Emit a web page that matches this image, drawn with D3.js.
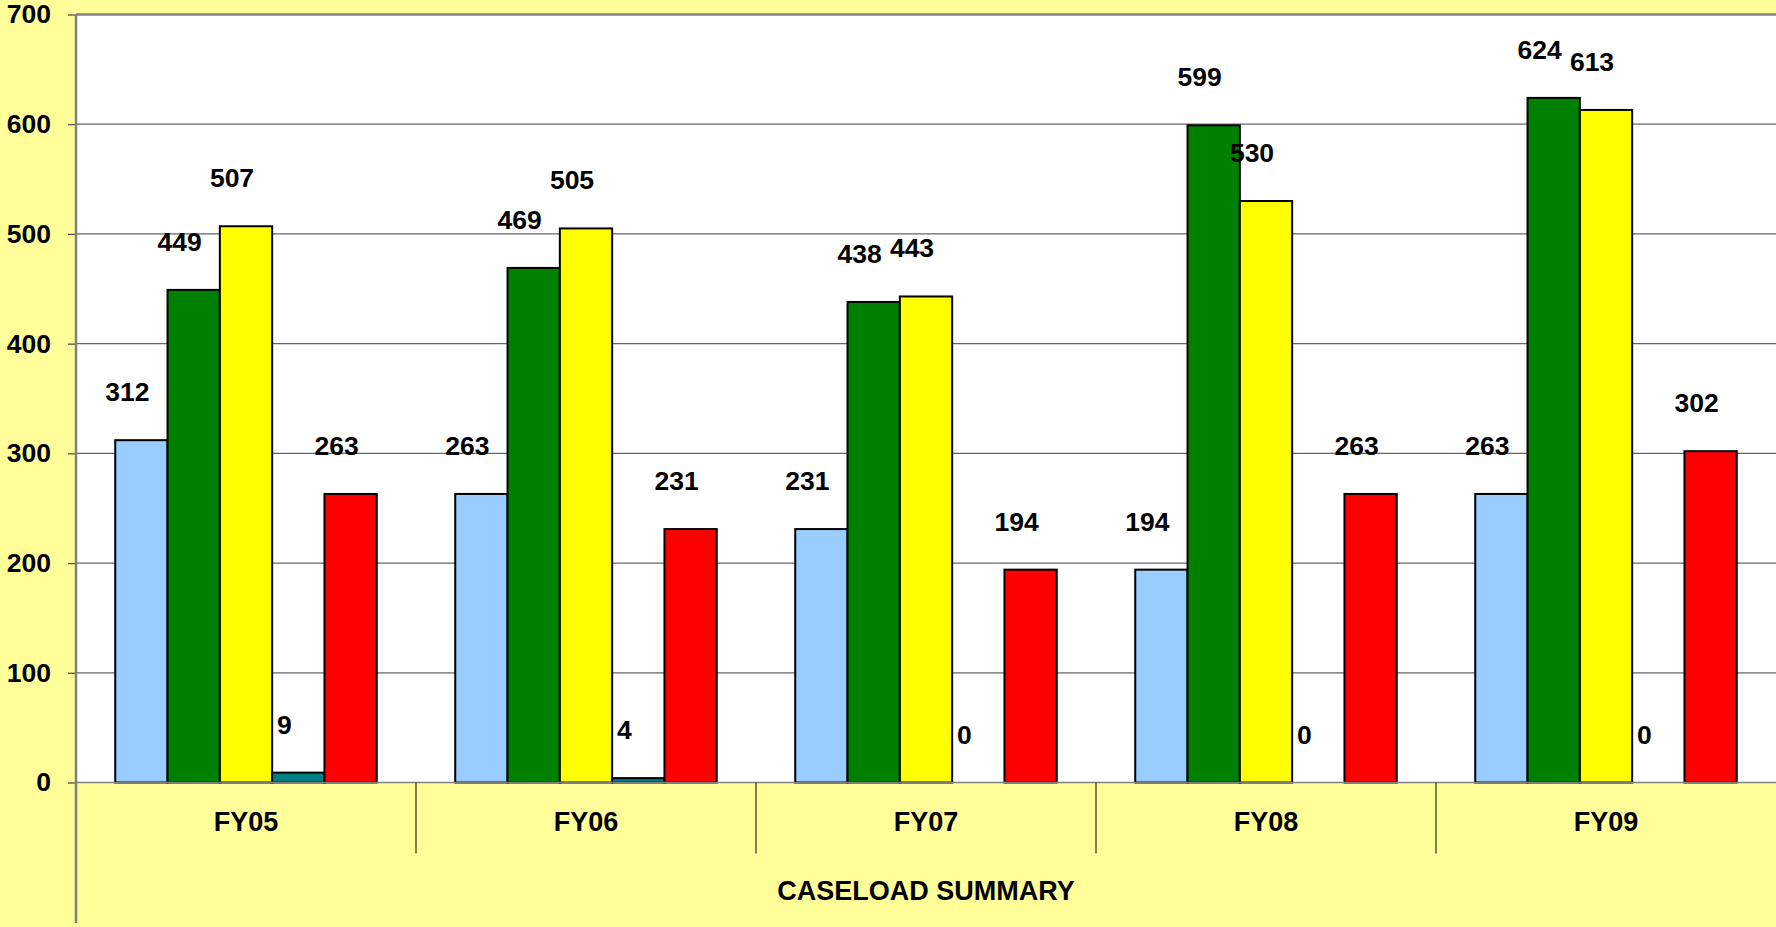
<!DOCTYPE html>
<html>
<head>
<meta charset="utf-8">
<script src="https://cdn.jsdelivr.net/npm/d3@7"></script>
<style>
  html, body { margin: 0; padding: 0; background: #FFFF99; }
  svg { display: block; }
  text { font-family: "Liberation Sans", Arial, sans-serif; font-weight: bold; fill: #000; }
</style>
</head>
<body>
<script>
// ---- data ----
const categories = ["FY05", "FY06", "FY07", "FY08", "FY09"];
const seriesNames = ["S1", "S2", "S3", "S4", "S5"];
const seriesColors = ["#99CCFF", "#008000", "#FFFF00", "#008080", "#FF0000"];
const s1 = [312, 263, 231, 194, 263];
const s2 = [449, 469, 438, 599, 624];
const s3 = [507, 505, 443, 530, 613];
const s4 = [9, 4, 0, 0, 0];
const s5 = [263, 231, 194, 263, 302];
const yTicks = [0, 100, 200, 300, 400, 500, 600, 700];
const axisTitle = "CASELOAD SUMMARY";

const seriesValues = [s1, s2, s3, s4, s5];

// ---- layout ----
const W = 1776, H = 927;
const plot = { left: 76, right: 1776, top: 14.5, bottom: 782.5 };

const svg = d3.select("body").append("svg").attr("width", W).attr("height", H);

svg.append("rect").attr("width", W).attr("height", H).attr("fill", "#FFFF99");

const x0 = d3.scaleBand().domain(categories).range([plot.left, plot.right]).paddingInner(0).paddingOuter(0);
const x1 = d3.scaleBand().domain(d3.range(seriesNames.length)).range([0, x0.bandwidth()]).paddingInner(0).paddingOuter(0.75);
const y = d3.scaleLinear().domain([0, 700]).range([plot.bottom, plot.top]);

// plot area background
svg.append("rect")
  .attr("x", plot.left).attr("y", plot.top)
  .attr("width", plot.right - plot.left).attr("height", plot.bottom - plot.top)
  .attr("fill", "#FFFFFF");

// gridlines
svg.append("g").selectAll("line")
  .data(yTicks.filter(t => t > 0 && t < 700))
  .join("line")
  .attr("x1", plot.left).attr("x2", plot.right)
  .attr("y1", d => y(d)).attr("y2", d => y(d))
  .attr("stroke", "#666").attr("stroke-width", 1.2);

// top border
svg.append("line")
  .attr("x1", plot.left).attr("x2", plot.right)
  .attr("y1", y(700)).attr("y2", y(700))
  .attr("stroke", "#808080").attr("stroke-width", 2.5);

// y axis
const yAxis = d3.axisLeft(y).tickValues(yTicks).tickSize(8).tickPadding(17).tickFormat(d3.format("d"));
const gy = svg.append("g").attr("transform", `translate(${plot.left},0)`).call(yAxis);
gy.select(".domain").remove();
gy.selectAll(".tick line").attr("stroke", "#444").attr("stroke-width", 1.2);
gy.selectAll(".tick text").style("font-size", "26.5px").style("font-family", "'Liberation Sans', Arial, sans-serif").style("font-weight", "bold").attr("fill", "#000");

// bars
const data = [];
categories.forEach((c, ci) => {
  seriesValues.forEach((vals, si) => {
    data.push({ c, si, v: vals[ci] });
  });
});

svg.append("g").selectAll("rect")
  .data(data)
  .join("rect")
  .attr("x", d => x0(d.c) + x1(d.si))
  .attr("y", d => y(d.v))
  .attr("width", x1.bandwidth())
  .attr("height", d => y(0) - y(d.v))
  .attr("fill", d => seriesColors[d.si])
  .attr("stroke", d => d.v > 0 ? "#000" : "none")
  .attr("stroke-width", 2);

// baseline (category axis)
svg.append("line")
  .attr("x1", plot.left).attr("x2", plot.right)
  .attr("y1", y(0)).attr("y2", y(0))
  .attr("stroke", "#808080").attr("stroke-width", 1.5);

// category separators
svg.append("g").selectAll("line")
  .data(categories.slice(1))
  .join("line")
  .attr("x1", d => x0(d)).attr("x2", d => x0(d))
  .attr("y1", y(0)).attr("y2", y(0) + 71)
  .attr("stroke", "#000").attr("stroke-width", 1);

// left axis line
svg.append("line")
  .attr("x1", plot.left).attr("x2", plot.left)
  .attr("y1", plot.top).attr("y2", 923)
  .attr("stroke", "#808080").attr("stroke-width", 2.5);

// category labels
svg.append("g").selectAll("text")
  .data(categories)
  .join("text")
  .attr("x", d => x0(d) + x0.bandwidth() / 2)
  .attr("y", y(0) + 41)
  .attr("text-anchor", "middle")
  .attr("dominant-baseline", "middle")
  .style("font-size", "27px")
  .text(d => d);

// axis title
svg.append("text")
  .attr("x", (plot.left + plot.right) / 2)
  .attr("y", 893)
  .attr("text-anchor", "middle")
  .attr("dominant-baseline", "middle")
  .style("font-size", "27px")
  .text(axisTitle);

// data labels
svg.append("g").selectAll("text")
  .data(data)
  .join("text")
  .attr("x", d => x0(d.c) + x1(d.si) + x1.bandwidth() / 2 - 14)
  .attr("y", d => y(d.v) - 46)
  .attr("text-anchor", "middle")
  .attr("dominant-baseline", "middle")
  .style("font-size", "26.5px")
  .text(d => d.v);
</script>
</body>
</html>
